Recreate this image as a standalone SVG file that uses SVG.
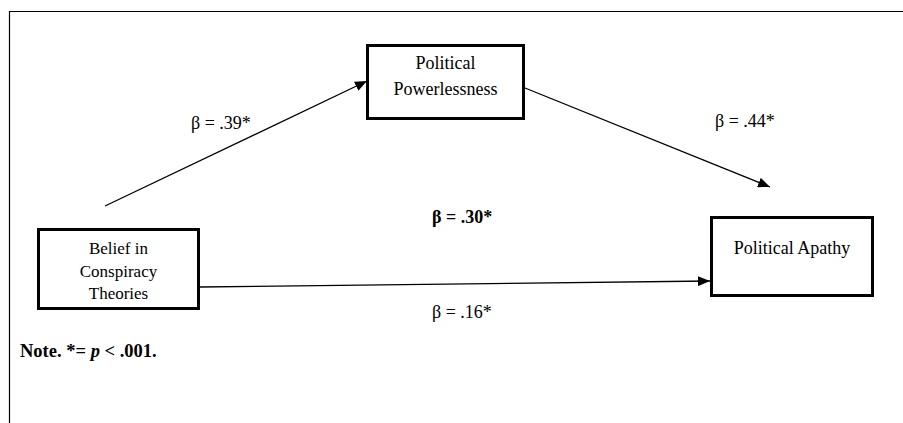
<svg xmlns="http://www.w3.org/2000/svg" width="903" height="423" viewBox="0 0 903 423">
<style>
  text { font-family: "Liberation Serif", "Times New Roman", serif; fill: #000; }
  .node rect { fill: #fff; stroke: #000; stroke-width: 3; }
  .lbl { font-size: 18px; text-anchor: middle; }
  .coef { font-size: 18px; }
  .bold { font-weight: bold; }
  .edge { stroke: #000; stroke-width: 1.3; fill: none; marker-end: url(#arrow); }
</style>
<defs>
  <marker id="arrow" markerUnits="userSpaceOnUse" markerWidth="12" markerHeight="10" refX="12" refY="5" orient="auto">
    <path d="M0,0 L12,5 L0,10 Z" fill="#000"/>
  </marker>
</defs>
<rect width="903" height="423" fill="#fff"/>
<path d="M9.5,423 L9.5,11.5 L903,11.5" fill="none" stroke="#000" stroke-width="1.2"/>

<g id="connectors">
  <line class="edge" x1="105" y1="206" x2="367" y2="81"/>
  <line class="edge" x1="525" y1="88" x2="770" y2="187"/>
  <line class="edge" x1="200" y1="287" x2="710" y2="281"/>
</g>

<g id="node-belief" class="node">
  <rect x="38.5" y="229.5" width="160" height="79"/>
  <text class="lbl" x="118.5" y="254" style="font-size:17px">Belief in</text>
  <text class="lbl" x="118.5" y="277" style="font-size:17px">Conspiracy</text>
  <text class="lbl" x="118.5" y="299" style="font-size:17px">Theories</text>
</g>

<g id="node-powerlessness" class="node">
  <rect x="367.5" y="45.5" width="156" height="73"/>
  <text class="lbl" x="445.5" y="69">Political</text>
  <text class="lbl" x="445.5" y="95">Powerlessness</text>
</g>

<g id="node-apathy" class="node">
  <rect x="711.5" y="217.5" width="161" height="78"/>
  <text class="lbl" x="792" y="254">Political Apathy</text>
</g>

<g id="labels">
  <text class="coef" x="191" y="129">β = .39*</text>
  <text class="coef" x="715" y="127">β = .44*</text>
  <text class="coef bold" x="432" y="223">β = .30*</text>
  <text class="coef" x="432" y="318">β = .16*</text>
  <text class="bold" x="20" y="357" style="font-size:18.5px">Note. *= <tspan font-style="italic">p</tspan> &lt; .001.</text>
</g>
</svg>
